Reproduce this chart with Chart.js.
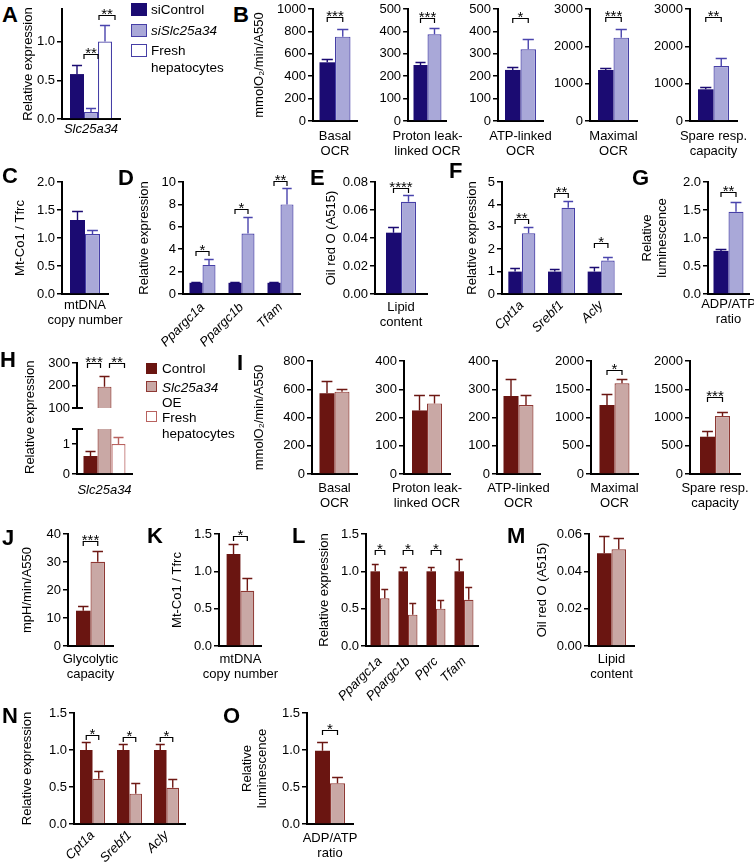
<!DOCTYPE html>
<html><head><meta charset="utf-8">
<script src="https://cdn.jsdelivr.net/npm/chart.js@4.4.1/dist/chart.umd.min.js"></script>
<style>
body{margin:0;background:#fff;}
#wrap{position:relative;width:754px;height:865px;overflow:hidden;font-family:"Liberation Sans",Arial,sans-serif;color:#000;}
canvas{position:absolute;}
.lt{position:absolute;font-weight:bold;font-size:22px;line-height:22px;}
.lg{position:absolute;font-size:13.5px;line-height:15px;white-space:nowrap;}
.bx{position:absolute;box-sizing:border-box;}
</style></head><body><div id="wrap"></div>
<script>
// ===== DATA =====
// Panel A
const aCats = ['Slc25a34'];
const aSiControl = [0.58], aSiControlErr = [0.12];
const aSiSlc = [0.09], aSiSlcErr = [0.05];
const aFresh = [1.0], aFreshErr = [0.21];
const aYTicks = [0, 0.5, 1.0];
const aSig = ['**', '**'], aSigY = [0.84, 1.34];
// Panel B
const bCats = [['Basal','OCR'],['Proton leak-','linked OCR'],['ATP-linked','OCR'],['Maximal','OCR'],['Spare resp.','capacity']];
const bSiControl = [524, 250, 228, 1366, 849];
const bSiControlErr = [27, 15, 12, 62, 54];
const bSiSlc = [753, 387, 320, 2232, 1473];
const bSiSlcErr = [66, 27, 47, 223, 207];
const bYTicks = [[0,200,400,600,800,1000],[0,100,200,300,400,500],[0,100,200,300,400,500],[0,1000,2000,3000],[0,1000,2000,3000]];
const bSig = ['***','***','*','***','**'];
const bSigY = [925, 462, 462, 2775, 2775];
// Panel C
const cCats = [['mtDNA','copy number']];
const cSiControl = [1.32], cSiControlErr = [0.17];
const cSiSlc = [1.07], cSiSlcErr = [0.08];
const cYTicks = [0, 0.5, 1.0, 1.5, 2.0];
// Panel D
const dCats = ['Ppargc1a','Ppargc1b','Tfam'];
const dSiControl = [1, 1, 1], dSiControlErr = [0.06, 0.04, 0.1];
const dSiSlc = [2.6, 5.4, 8.0], dSiSlcErr = [0.5, 1.48, 1.5];
const dSig = ['*','*','**'], dSigY = [3.84, 7.56, 10.05];
const dYTicks = [0, 2, 4, 6, 8, 10];
// Panel E
const eCats = [['Lipid','content']];
const eSiControl = [0.0438], eSiControlErr = [0.0038];
const eSiSlc = [0.0659], eSiSlcErr = [0.0048];
const eSig = ['****'], eSigY = [0.0755];
const eYTicks = [0, 0.02, 0.04, 0.06, 0.08];
// Panel F
const fCats = ['Cpt1a','Srebf1','Acly'];
const fSiControl = [1, 1, 1], fSiControlErr = [0.14, 0.1, 0.22];
const fSiSlc = [2.71, 3.85, 1.49], fSiSlcErr = [0.29, 0.3, 0.18];
const fSig = ['**','**','*'], fSigY = [3.33, 4.52, 2.26];
const fYTicks = [0, 1, 2, 3, 4, 5];
// Panel G
const gCats = [['ADP/ATP','ratio']];
const gSiControl = [0.77], gSiControlErr = [0.035];
const gSiSlc = [1.47], gSiSlcErr = [0.18];
const gSig = ['**'], gSigY = [1.83];
const gYTicks = [0, 0.5, 1.0, 1.5, 2.0];
// Panel H
const hCats = ['Slc25a34'];
const hControl = [0.6], hControlErr = [0.18];
const hOE = [195], hOEErr = [47];
const hFresh = [1.0], hFreshErr = [0.24];
const hLowTicks = [0, 1];
const hUpTicks = [100, 200, 300];
const hSig = ['***','**'], hSigY = [298, 298];
// Panel I
const iCats = bCats;
const iControl = [571, 225, 276, 1221, 660];
const iControlErr = [87, 55, 59, 190, 106];
const iOE = [583, 250, 244, 1605, 1027];
const iOEErr = [19, 30, 36, 76, 76];
const iYTicks = [[0,200,400,600,800],[0,100,200,300,400],[0,100,200,300,400],[0,500,1000,1500,2000],[0,500,1000,1500,2000]];
const iSig = [null, null, null, '*', '***'];
const iSigY = [0, 0, 0, 1841, 1358];
// Panel J
const jCats = [['Glycolytic','capacity']];
const jControl = [12.6], jControlErr = [1.7];
const jOE = [30.1], jOEErr = [3.9];
const jSig = ['***'], jSigY = [37.5];
const jYTicks = [0, 10, 20, 30, 40];
// Panel K
const kCats = [['mtDNA','copy number']];
const kControl = [1.232], kControlErr = [0.14];
const kOE = [0.74], kOEErr = [0.175];
const kSig = ['*'], kSigY = [1.47];
const kYTicks = [0, 0.5, 1.0, 1.5];
// Panel L
const lCats = ['Ppargc1a','Ppargc1b','Pprc','Tfam'];
const lControl = [1, 1, 1, 1], lControlErr = [0.1, 0.06, 0.06, 0.16];
const lOE = [0.64, 0.42, 0.5, 0.62], lOEErr = [0.12, 0.15, 0.11, 0.17];
const lSig = ['*','*','*',null], lSigY = [1.285, 1.285, 1.285, 0];
const lYTicks = [0, 0.5, 1.0, 1.5];
// Panel M
const mCats = [['Lipid','content']];
const mControl = [0.0497], mControlErr = [0.009];
const mOE = [0.0518], mOEErr = [0.006];
const mYTicks = [0, 0.02, 0.04, 0.06];
// Panel N
const nCats = ['Cpt1a','Srebf1','Acly'];
const nControl = [1, 1, 1], nControlErr = [0.11, 0.08, 0.08];
const nOE = [0.61, 0.41, 0.49], nOEErr = [0.11, 0.15, 0.12];
const nSig = ['*','*','*'], nSigY = [1.2, 1.18, 1.18];
const nYTicks = [0, 0.5, 1.0, 1.5];
// Panel O
const oCats = [['ADP/ATP','ratio']];
const oControl = [0.99], oControlErr = [0.12];
const oOE = [0.55], oOEErr = [0.08];
const oSig = ['*'], oSigY = [1.27];
const oYTicks = [0, 0.5, 1.0, 1.5];

// ===== STYLE =====
const FONT = "'Liberation Sans', Arial, Helvetica, sans-serif";
const NAVY = '#1b0b72', LAV = '#a9a8d8', LAVB = '#463fa6', LAVE = '#4a44ad';
const RED = '#6a1511', PINK = '#c9a8a5', PINKB = '#8e3833', REDE = '#6f1914', FRB = '#b8625f';
Chart.defaults.font.family = FONT;
Chart.defaults.color = '#000';
const wrap = document.getElementById('wrap');

const S = {
  ctl: (d, e) => ({data: d, err: e, bg: NAVY, bc: NAVY, bw: 0, ec: NAVY}),
  kd: (d, e) => ({data: d, err: e, bg: LAV, bc: LAVB, bw: 1.2, ec: LAVE}),
  frA: (d, e) => ({data: d, err: e, bg: '#fff', bc: LAVB, bw: 1.2, ec: LAVE}),
  rc: (d, e) => ({data: d, err: e, bg: RED, bc: RED, bw: 0, ec: RED}),
  oe: (d, e) => ({data: d, err: e, bg: PINK, bc: PINKB, bw: 1.2, ec: REDE}),
  frH: (d, e) => ({data: d, err: e, bg: '#fff', bc: FRB, bw: 1.2, ec: FRB})
};
function pairSig(tags, ys) {
  const out = [];
  tags.forEach((t, i) => { if (t) out.push({c: i, a: 0, b: 1, t: t, y: ys[i]}); });
  return out;
}

const extras = {
  id: 'extras',
  afterDatasetsDraw(chart, args, opts) {
    const ctx = chart.ctx, ys = chart.scales.y, ca = chart.chartArea;
    ctx.save();
    chart.data.datasets.forEach((ds, di) => {
      const meta = chart.getDatasetMeta(di);
      (ds.err || []).forEach((e, i) => {
        const v = ds.data[i];
        if (e == null || v == null) return;
        if (v + e > ys.max + 1e-9) return;
        const el = meta.data[i]; if (!el) return;
        const x = el.x, y0 = ys.getPixelForValue(v), y1 = Math.round(ys.getPixelForValue(v + e)) + 0.5;
        const cap = el.width * 0.36;
        ctx.strokeStyle = ds.errColor; ctx.lineWidth = 1.4;
        ctx.beginPath(); ctx.moveTo(x, y0); ctx.lineTo(x, y1);
        ctx.moveTo(x - cap, y1); ctx.lineTo(x + cap, y1); ctx.stroke();
      });
    });
    (opts.sig || []).forEach(s => {
      const xa = chart.getDatasetMeta(s.a).data[s.c].x + (s.dxa || 0);
      const xb = chart.getDatasetMeta(s.b).data[s.c].x + (s.dxb || 0);
      const y = Math.round(ys.getPixelForValue(s.y)) + 0.5;
      ctx.strokeStyle = '#000'; ctx.lineWidth = 1.2;
      ctx.beginPath(); ctx.moveTo(xa, y + 4.5); ctx.lineTo(xa, y); ctx.lineTo(xb, y); ctx.lineTo(xb, y + 4.5); ctx.stroke();
      ctx.fillStyle = '#000'; ctx.font = '15px ' + FONT; ctx.textAlign = 'center'; ctx.textBaseline = 'alphabetic';
      ctx.fillText(s.t, (xa + xb) / 2, y + 3);
    });
    if (opts.brk) {
      ctx.strokeStyle = '#000'; ctx.lineWidth = 2;
      const yy = opts.brk === 'bottom' ? ca.bottom : ca.top;
      ctx.beginPath(); ctx.moveTo(ca.left - 5, yy); ctx.lineTo(ca.left + 6, yy); ctx.stroke();
    }
    ctx.restore();
  }
};

function panel(o) {
  const LH = 15;
  const padT = o.padT != null ? o.padT : 26, padR = 40;
  const cl = Math.round(o.cl != null ? o.cl : (o.titleX - LH / 2));
  const xh = o.xHide ? 0 : (o.xh != null ? o.xh : 40);
  const padB = o.padB || 0;
  const W = Math.ceil(o.right - cl + padR);
  const H = Math.ceil(padT + (o.bottom - o.top) + xh + padB);
  const cv = document.createElement('canvas');
  cv.width = W; cv.height = H;
  Object.assign(cv.style, {left: cl + 'px', top: (o.top - padT) + 'px', width: W + 'px', height: H + 'px'});
  wrap.appendChild(cv);
  const nC = o.cats.length, nS = o.series.length;
  const catPct = nS * o.barW / ((o.right - o.left) / nC);
  const rot = o.rot || 0;
  const ticks = o.ticks, dec = o.dec || 0;
  return new Chart(cv, {
    type: 'bar',
    data: {
      labels: o.cats,
      datasets: o.series.map(s => ({
        data: s.data, err: s.err, errColor: s.ec,
        backgroundColor: s.bg, borderColor: s.bc, borderWidth: s.bw,
        barPercentage: 1, categoryPercentage: catPct,
        clip: o.clip != null ? o.clip : undefined
      }))
    },
    options: {
      responsive: false, animation: false, devicePixelRatio: 1,
      events: [],
      layout: {padding: {top: padT, right: padR, left: 0, bottom: padB}},
      plugins: {legend: {display: false}, tooltip: {enabled: false}, extras: {sig: o.sig || [], brk: o.brk}},
      scales: {
        x: {
          display: !o.xHide, offset: true,
          grid: {display: false, drawTicks: false, tickLength: 0},
          border: {display: !o.xHide, color: '#000', width: 2},
          ticks: {
            color: '#000', autoSkip: false, maxRotation: rot, minRotation: rot,
            padding: o.xpad != null ? o.xpad : 7,
            font: {size: 13, style: o.italic ? 'italic' : 'normal', lineHeight: 1.15}
          },
          afterFit: s => { s.height = xh; }
        },
        y: {
          min: o.min != null ? o.min : 0, max: o.max, beginAtZero: false,
          afterBuildTicks: s => { s.ticks = ticks.map(v => ({value: v})); },
          ticks: {color: '#000', padding: 2, font: {size: 13}, callback: v => Number(v).toFixed(dec)},
          grid: {display: true, drawOnChartArea: false, drawTicks: true, tickLength: 5, color: '#000', lineWidth: 1.5},
          border: {display: true, color: '#000', width: 2},
          title: {display: !!o.ytitle, text: o.ytitle || '', align: o.titleAlign || 'center', color: '#000', padding: 0, font: {size: 13, lineHeight: 1.15}},
          afterFit: s => { s.width = o.left - cl; }
        }
      }
    },
    plugins: [extras]
  });
}

// ===== PANELS =====
// A
panel({left: 62, right: 120, top: 9, bottom: 119, titleX: 28, barW: 14, xpad: 3, italic: true,
  cats: aCats, max: 1.42, ticks: aYTicks, dec: 1, ytitle: 'Relative expression',
  series: [S.ctl(aSiControl, aSiControlErr), S.kd(aSiSlc, aSiSlcErr), S.frA(aFresh, aFreshErr)],
  sig: [{c: 0, a: 0, b: 1, t: aSig[0], y: aSigY[0], dxa: 7, dxb: 7}, {c: 0, a: 1, b: 2, t: aSig[1], y: aSigY[1], dxa: 8, dxb: 10}]});
// B
const bLeft = [313, 407, 498, 590, 690], bRight = [357, 450, 543, 637, 737];
for (let i = 0; i < 5; i++) {
  const t = bYTicks[i];
  panel({left: bLeft[i], right: bRight[i], top: 9, bottom: 121,
    titleX: i === 0 ? 259 : null, cl: i === 0 ? null : bLeft[i] - 42, barW: 15.5, xpad: 8,
    cats: [bCats[i]], max: t[t.length - 1], ticks: t, dec: 0,
    ytitle: i === 0 ? 'mmolO\u2082/min/A550' : null,
    series: [S.ctl([bSiControl[i]], [bSiControlErr[i]]), S.kd([bSiSlc[i]], [bSiSlcErr[i]])],
    sig: [{c: 0, a: 0, b: 1, t: bSig[i], y: bSigY[i]}]});
}
// C
panel({left: 62, right: 108, top: 182, bottom: 294, titleX: 20.5, barW: 15, xpad: 4,
  cats: cCats, max: 2, ticks: cYTicks, dec: 1, ytitle: 'Mt-Co1 / Tfrc',
  series: [S.ctl(cSiControl, cSiControlErr), S.kd(cSiSlc, cSiSlcErr)]});
// D
panel({left: 183, right: 300, top: 182, bottom: 294, titleX: 144, barW: 13, xpad: 6, rot: 45, italic: true, xh: 60,
  cats: dCats, max: 10, ticks: dYTicks, dec: 0, ytitle: 'Relative expression',
  series: [S.ctl(dSiControl, dSiControlErr), S.kd(dSiSlc, dSiSlcErr)], sig: pairSig(dSig, dSigY)});
// E
panel({left: 375, right: 427, top: 182, bottom: 294, titleX: 331, barW: 15, xpad: 6,
  cats: eCats, max: 0.08, ticks: eYTicks, dec: 2, ytitle: 'Oil red O (A515)',
  series: [S.ctl(eSiControl, eSiControlErr), S.kd(eSiSlc, eSiSlcErr)], sig: pairSig(eSig, eSigY)});
// F
panel({left: 502, right: 621, top: 182, bottom: 294, titleX: 472, barW: 13.5, xpad: 4, rot: 45, italic: true, xh: 60,
  cats: fCats, max: 5, ticks: fYTicks, dec: 0, ytitle: 'Relative expression',
  series: [S.ctl(fSiControl, fSiControlErr), S.kd(fSiSlc, fSiSlcErr)], sig: pairSig(fSig, fSigY)});
// G
panel({left: 708, right: 749, top: 182, bottom: 294, titleX: 647, barW: 15, xpad: 3,
  cats: gCats, max: 2, ticks: gYTicks, dec: 1, ytitle: ['Relative', 'luminescence'],
  series: [S.ctl(gSiControl, gSiControlErr), S.kd(gSiSlc, gSiSlcErr)], sig: pairSig(gSig, gSigY)});
// H lower (with axis title spanning the break)
panel({left: 77, right: 132, top: 429, bottom: 474, titleX: 30, barW: 14, xpad: 9, italic: true, clip: 0, brk: 'top', padT: 78,
  cats: hCats, max: 1.5, ticks: hLowTicks, dec: 0, ytitle: 'Relative expression', titleAlign: 'start',
  series: [S.rc(hControl, hControlErr), S.oe(hOE, [null]), S.frH(hFresh, hFreshErr)]});
// H upper
panel({left: 77, right: 132, top: 363, bottom: 408, cl: 40, barW: 14, xHide: true, padB: 10, clip: 0, brk: 'bottom',
  cats: hCats, min: 100, max: 300, ticks: hUpTicks, dec: 0,
  series: [S.rc([null], [null]), S.oe(hOE, hOEErr), S.frH([null], [null])],
  sig: [{c: 0, a: 0, b: 1, t: hSig[0], y: hSigY[0], dxa: -3, dxb: -4}, {c: 0, a: 1, b: 2, t: hSig[1], y: hSigY[1], dxa: 5, dxb: 6}]});
// I
const iLeft = [312, 404, 497, 591, 690], iRight = [357, 450, 540, 638, 740];
for (let i = 0; i < 5; i++) {
  const t = iYTicks[i];
  panel({left: iLeft[i], right: iRight[i], top: 361, bottom: 474,
    titleX: i === 0 ? 259 : null, cl: i === 0 ? null : iLeft[i] - 42, barW: 15, xpad: 7,
    cats: [iCats[i]], max: t[t.length - 1], ticks: t, dec: 0,
    ytitle: i === 0 ? 'mmolO\u2082/min/A550' : null,
    series: [S.rc([iControl[i]], [iControlErr[i]]), S.oe([iOE[i]], [iOEErr[i]])],
    sig: iSig[i] ? [{c: 0, a: 0, b: 1, t: iSig[i], y: iSigY[i]}] : []});
}
// J
panel({left: 68, right: 113, top: 534, bottom: 646, titleX: 27.5, barW: 14.5, xpad: 6,
  cats: jCats, max: 40, ticks: jYTicks, dec: 0, ytitle: 'mpH/min/A550',
  series: [S.rc(jControl, jControlErr), S.oe(jOE, jOEErr)], sig: pairSig(jSig, jSigY)});
// K
panel({left: 219, right: 264, top: 534, bottom: 646, titleX: 177, barW: 14.5, xpad: 6,
  cats: kCats, max: 1.5, ticks: kYTicks, dec: 1, ytitle: 'Mt-Co1 / Tfrc',
  series: [S.rc(kControl, kControlErr), S.oe(kOE, kOEErr)], sig: pairSig(kSig, kSigY)});
// L
panel({left: 366, right: 478, top: 534, bottom: 646, titleX: 324, barW: 9.5, xpad: 8, rot: 45, italic: true, xh: 60,
  cats: lCats, max: 1.5, ticks: lYTicks, dec: 1, ytitle: 'Relative expression',
  series: [S.rc(lControl, lControlErr), S.oe(lOE, lOEErr)], sig: pairSig(lSig, lSigY)});
// M
panel({left: 589, right: 634, top: 534, bottom: 646, titleX: 542, barW: 14.5, xpad: 6,
  cats: mCats, max: 0.06, ticks: mYTicks, dec: 2, ytitle: 'Oil red O (A515)',
  series: [S.rc(mControl, mControlErr), S.oe(mOE, mOEErr)]});
// N
panel({left: 74, right: 185, top: 713, bottom: 824, titleX: 27.5, barW: 12.5, xpad: 4, rot: 45, italic: true, xh: 41,
  cats: nCats, max: 1.5, ticks: nYTicks, dec: 1, ytitle: 'Relative expression',
  series: [S.rc(nControl, nControlErr), S.oe(nOE, nOEErr)], sig: pairSig(nSig, nSigY)});
// O
panel({left: 307, right: 353, top: 713, bottom: 824, titleX: 247, barW: 15, xpad: 7, xh: 41,
  cats: oCats, max: 1.5, ticks: oYTicks, dec: 1, ytitle: ['Relative', 'luminescence'],
  series: [S.rc(oControl, oControlErr), S.oe(oOE, oOEErr)], sig: pairSig(oSig, oSigY)});

// ===== TEXT: panel letters, legends =====
function div(cls, html, css) {
  const d = document.createElement('div'); d.className = cls; d.innerHTML = html;
  Object.assign(d.style, css); wrap.appendChild(d); return d;
}
const letters = [['A',2,7],['B',233,7],['C',2,168],['D',118,170],['E',310,170],['F',449,163],['G',632,170],
  ['H',0,352],['I',237,355],['J',2,530],['K',147,528],['L',292,528],['M',507,528],['N',2,708],['O',223,708]];
letters.forEach(l => div('lt', l[0], {left: l[1] + 'px', top: (l[2] - 2.9) + 'px'}));
function lgBox(x, y, w, h, bg, bc) {
  div('bx', '', {left: x + 'px', top: y + 'px', width: w + 'px', height: h + 'px', background: bg, border: bc ? ('1.2px solid ' + bc) : 'none'});
}
function lgText(x, cy, html) { div('lg', html, {left: x + 'px', top: (cy - 7.4) + 'px'}); }
// A legend
lgBox(131, 3, 16, 13, NAVY, null); lgText(151, 9, 'siControl');
lgBox(131, 24, 16, 13, LAV, LAVB); lgText(151, 30, '<i>siSlc25a34</i>');
lgBox(131, 44, 16, 13, '#fff', LAVB); lgText(151, 50, 'Fresh'); lgText(151, 67, 'hepatocytes');
// H legend
lgBox(146, 363, 11, 11, RED, null); lgText(162, 368, 'Control');
lgBox(146, 381, 11, 11, PINK, PINKB); lgText(162, 387, '<i>Slc25a34</i>'); lgText(162, 402, 'OE');
lgBox(146, 411, 11, 11, '#fff', FRB); lgText(162, 417, 'Fresh'); lgText(162, 433, 'hepatocytes');
</script></body></html>
